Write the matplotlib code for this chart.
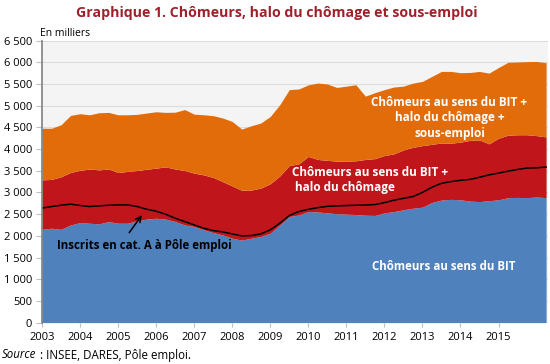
import numpy as np
import matplotlib.pyplot as plt
from matplotlib.ticker import FuncFormatter

# --- Data (in thousands), quarterly from 2003Q1 ---
bit = [2150, 2175, 2150, 2250, 2305, 2290, 2275, 2330, 2290, 2290,
       2350, 2385, 2405, 2385, 2330, 2250, 2215, 2140, 2075, 2020,
       1945, 1900, 1945, 1985, 2060, 2250, 2445, 2480, 2560, 2550,
       2530, 2510, 2500, 2490, 2475, 2470, 2530, 2560, 2600, 2637,
       2660, 2770, 2825, 2840, 2830, 2800, 2790, 2810, 2830, 2880,
       2885, 2880, 2895, 2880]

bit_halo = [3290, 3300, 3360, 3460, 3510, 3540, 3520, 3540, 3460, 3485,
            3505, 3535, 3560, 3590, 3540, 3505, 3445, 3405, 3345, 3250,
            3150, 3050, 3055, 3100, 3200, 3380, 3620, 3660, 3830, 3760,
            3740, 3720, 3720, 3730, 3760, 3780, 3850, 3890, 3980, 4040,
            4080, 4110, 4140, 4135, 4160, 4200, 4210, 4120, 4250, 4320,
            4330, 4330, 4310, 4280]

bit_halo_sous_emploi = [4480, 4480, 4560, 4775, 4815, 4790, 4837, 4845, 4790, 4790,
                        4800, 4830, 4860, 4845, 4850, 4910, 4805, 4790, 4770, 4715,
                        4637, 4460, 4537, 4600, 4752, 5022, 5370, 5385, 5480, 5522,
                        5500, 5420, 5450, 5483, 5220, 5300, 5370, 5430, 5450, 5520,
                        5560, 5675, 5790, 5790, 5760, 5765, 5790, 5750, 5880, 6000,
                        6007, 6015, 6020, 5990]

pole_emploi_cat_a = [2640, 2675, 2705, 2730, 2700, 2675, 2690, 2705, 2713, 2713,
                     2675, 2613, 2567, 2498, 2406, 2330, 2252, 2175, 2121, 2090,
                     2044, 1998, 2006, 2044, 2137, 2290, 2467, 2560, 2610, 2650,
                     2680, 2690, 2698, 2705, 2710, 2720, 2765, 2820, 2865, 2905,
                     3000, 3120, 3210, 3250, 3280, 3300, 3350, 3405, 3445, 3490,
                     3530, 3562, 3568, 3585]

years = list(range(2003, 2016))
t = 2003 + np.arange(len(bit)) / 4

BLUE = '#4f81bd'
RED = '#c0161b'
ORANGE = '#e36c0a'
TITLE_RED = '#a0202a'

plt.rcParams['font.family'] = ['Open Sans', 'DejaVu Sans']

fig = plt.figure(figsize=(5.5, 3.64), dpi=100)
ax = fig.add_axes([42 / 550, 1 - 322.6 / 364, 506 / 550, 282 / 364])
ax.set_facecolor('#f4f4f4')

ax.fill_between(t, 0, bit, color=BLUE, lw=0)
ax.fill_between(t, bit, bit_halo, color=RED, lw=0)
ax.fill_between(t, bit_halo, bit_halo_sous_emploi, color=ORANGE, lw=0)
ax.plot(t, pole_emploi_cat_a, color='black', lw=1.1)

ax.set_xlim(2003, 2016.3)
ax.set_ylim(0, 6500)
ax.set_yticks(np.arange(0, 6501, 500))
ax.yaxis.set_major_formatter(FuncFormatter(lambda v, p: f"{int(v):,}".replace(",", " ")))
ax.set_xticks(years)
ax.set_xticklabels([str(y) for y in years])
ax.grid(axis='y', color='#dcdcdc', lw=0.8)
ax.set_axisbelow(True)

for s in ['top', 'right', 'bottom']:
    ax.spines[s].set_visible(False)
ax.spines['left'].set_color('#808080')
ax.spines['left'].set_linewidth(1.2)
ax.tick_params(axis='y', length=4, color='#bfbfbf', labelsize=8, pad=3)
ax.tick_params(axis='x', length=3, color='#bfbfbf', labelsize=8, pad=4)

# labels inside the areas
ax.text(2013.71, 4722, "Chômeurs au sens du BIT +\nhalo du chômage +\nsous-emploi",
        color='white', fontsize=8.5, fontweight='bold', ha='center', va='center',
        linespacing=1.25)
ax.text(2009.56, 3291, "Chômeurs au sens du BIT +\n halo du chômage",
        color='white', fontsize=8.5, fontweight='bold', ha='left', va='center',
        linespacing=1.25)
ax.text(2013.57, 1283, "Chômeurs au sens du BIT", color='white', fontsize=8.3,
        fontweight='bold', ha='center', va='center')
ax.text(2003.40, 1768, "Inscrits en cat. A à Pôle emploi", color='black', fontsize=8.3,
        fontweight='bold', ha='left', va='center')
ax.annotate("", xy=(2005.67, 2530), xytext=(2005.25, 2022),
            arrowprops=dict(arrowstyle='->', color='black', lw=1.1))

fig.text(277 / 550, 1 - 13 / 364, "Graphique 1. Chômeurs, halo du chômage et sous-emploi",
         color=TITLE_RED, fontsize=10.2, fontweight='bold', ha='center', va='center')
fig.text(40 / 550, 1 - 34 / 364, "En milliers", fontsize=7.5, ha='left', va='center')
fig.text(2 / 550, 1 - 355 / 364, "Source", fontsize=8.3, style='italic', ha='left', va='center')
fig.text(40 / 550, 1 - 355 / 364, ": INSEE, DARES, Pôle emploi.", fontsize=8.3, ha='left', va='center')

fig.savefig('out.png', dpi=100)
